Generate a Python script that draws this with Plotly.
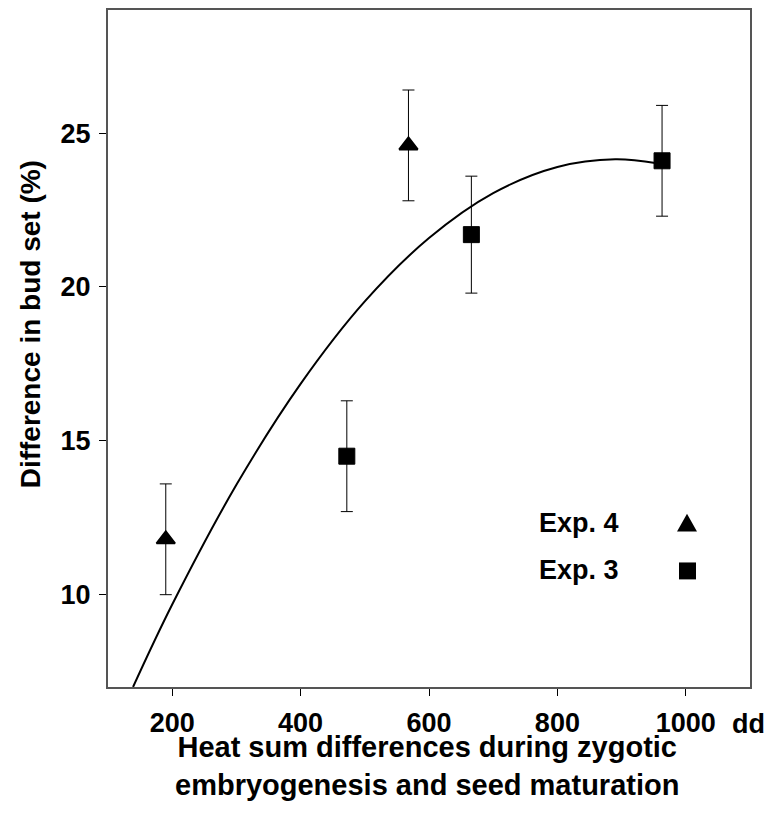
import plotly.graph_objects as go

# Data
exp4_x = [190, 568]
exp4_y = [11.8, 24.6]
exp4_err = [1.8, 1.8]

exp3_x = [472, 666, 963]
exp3_y = [14.5, 21.7, 24.1]
exp3_err = [1.8, 1.9, 1.8]

# Fitted curve
curve_x = [139, 200, 300, 400, 500, 600, 700, 800, 890, 955]
curve_y = [7.0, 9.68, 13.57, 16.85, 19.53, 21.59, 23.05, 23.90, 24.15, 24.02]

x_ticks = [200, 400, 600, 800, 1000]
y_ticks = [10, 15, 20, 25]

FONT = "Arial, Liberation Sans, Helvetica, sans-serif"
FS = 27

fig = go.Figure()

fig.add_trace(go.Scatter(
    x=curve_x, y=curve_y, mode="lines",
    line=dict(color="black", width=2, shape="spline", smoothing=1.0),
    hoverinfo="skip", showlegend=False))

err_style = dict(type="data", thickness=1, width=6, color="black")

fig.add_trace(go.Scatter(
    x=exp4_x, y=exp4_y, mode="markers",
    marker=dict(symbol="triangle-up", size=16, color="black",
                line=dict(color="black", width=2)),
    error_y=dict(array=exp4_err, **err_style),
    showlegend=False))

fig.add_trace(go.Scatter(
    x=exp3_x, y=exp3_y, mode="markers",
    marker=dict(symbol="square", size=16, color="black",
                line=dict(color="black", width=1)),
    error_y=dict(array=exp3_err, **err_style),
    showlegend=False))

L, R, T, B = 108, 20, 7.5, 142
W, H = 770, 829
pw = W - L - R
ph = H - T - B


def px(xp):
    return (xp - L) / pw


def py(yp):
    return 1 - (yp - T) / ph


shapes = [
    # legend triangle
    dict(type="path", xref="paper", yref="paper",
         path=f"M {px(677)},{py(531)} L {px(697)},{py(531)} L {px(687)},{py(513)} Z",
         fillcolor="black", line=dict(color="black", width=0)),
    # legend square
    dict(type="rect", xref="paper", yref="paper",
         x0=px(679), x1=px(696), y0=py(579), y1=py(562),
         fillcolor="black", line=dict(color="black", width=0)),
]

bold = dict(family=FONT, size=FS, color="black", weight="bold")
bold_title = dict(family=FONT, size=29, color="black", weight="bold")
bold_ytitle = dict(family=FONT, size=28, color="black", weight="bold")

annotations = [
    dict(text="Exp. 4", xref="paper", yref="paper", x=px(537), y=py(522),
         xanchor="left", yanchor="middle", showarrow=False, font=bold),
    dict(text="Exp. 3", xref="paper", yref="paper", x=px(537), y=py(570),
         xanchor="left", yanchor="middle", showarrow=False, font=bold),
    dict(text="dd", xref="paper", yref="paper", x=px(748), y=py(724),
         xanchor="center", yanchor="middle", showarrow=False, font=bold),
    dict(text="Heat sum differences during zygotic<br>embryogenesis and seed maturation",
         xref="paper", yref="paper", x=px(427), y=py(766),
         xanchor="center", yanchor="middle", showarrow=False, font=bold_title),
    dict(text="Difference in bud set (%)", textangle=-90,
         xref="paper", yref="paper", x=px(30), y=py(323),
         xanchor="center", yanchor="middle", showarrow=False, font=bold_ytitle),
]

axis_common = dict(
    showgrid=False, zeroline=False,
    showline=True, linecolor="#555555", linewidth=2, mirror=True,
    ticks="outside", ticklen=7, tickwidth=1, tickcolor="black",
    tickfont=bold,
)

fig.update_layout(
    width=W, height=H,
    margin=dict(l=L, r=R, t=T, b=B, pad=0),
    paper_bgcolor="white", plot_bgcolor="white",
    xaxis=dict(range=[100, 1100], tickvals=x_ticks, ticklabelstandoff=4, **axis_common),
    yaxis=dict(range=[7, 29], tickvals=y_ticks, ticklabelstandoff=3, **axis_common),
    shapes=shapes, annotations=annotations,
    showlegend=False,
)

fig.write_html("out.html", config={"displayModeBar": False},
               post_script="document.body.style.margin='0px';")
